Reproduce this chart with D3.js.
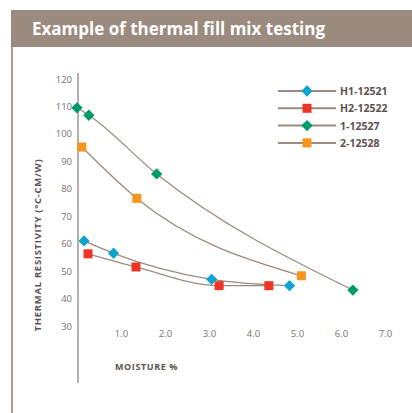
<!DOCTYPE html>
<html>
<head>
<meta charset="utf-8">
<script src="https://cdn.jsdelivr.net/npm/d3@7"></script>
<style>
  body { margin: 0; background: #fff; }
  svg { display: block; font-family: "Open Sans", sans-serif; }
</style>
</head>
<body>
<div id="chart"></div>
<script>
// series data: [moisture %, resistivity]
const h1 = [[0.16, 61.0], [0.83, 56.5], [3.06, 47.0], [4.83, 44.7]];
const h2 = [[0.25, 56.3], [1.34, 51.5], [3.23, 44.7], [4.36, 44.7]];
const s1 = [[0.0, 109.5], [0.27, 106.8], [1.81, 85.4], [6.27, 43.1]];
const s2 = [[0.11, 95.2], [1.36, 76.5], [5.10, 48.3]];

const seriesNames = ['H1-12521', 'H2-12522', '1-12527', '2-12528'];
const seriesData = [h1, h2, s1, s2];
const seriesColors = ['#0fa3cf', '#ee3424', '#009b68', '#f7941d'];
const seriesShapes = ['diamond', 'square', 'diamond', 'square'];

const xTicks = [1, 2, 3, 4, 5, 6, 7];
const yTicks = [30, 40, 50, 60, 70, 80, 90, 100, 110, 120];

const width = 412, height = 413;
const brown = '#9b8b7e';

const svg = d3.select('#chart').append('svg')
    .attr('width', width)
    .attr('height', height);

// header band and left rule
svg.append('rect')
    .attr('x', 11).attr('y', 10)
    .attr('width', width - 11).attr('height', 37)
    .style('fill', brown);
svg.append('line')
    .attr('x1', 12).attr('x2', 12)
    .attr('y1', 47).attr('y2', height)
    .style('stroke', '#a99c90')
    .style('stroke-width', 2);
svg.append('text')
    .attr('x', 32).attr('y', 35)
    .text('Example of thermal fill mix testing')
    .style('fill', '#fff')
    .style('font-size', '17px')
    .style('font-weight', 'bold');

// scales
const x = d3.scaleLinear().domain([0, 7]).range([77, 385]);
const y = d3.scaleLinear().domain([30, 120]).range([326, 79]);

// y axis line
svg.append('line')
    .attr('x1', 78).attr('x2', 78)
    .attr('y1', 73).attr('y2', 383)
    .style('stroke', '#9f958d')
    .style('stroke-width', 1.5);

const yAxis = svg.append('g')
    .attr('transform', 'translate(72,0)')
    .call(d3.axisLeft(y).tickValues(yTicks).tickSize(0).tickPadding(0));
yAxis.select('.domain').remove();

const xAxis = svg.append('g')
    .attr('transform', 'translate(0,330)')
    .call(d3.axisBottom(x).tickValues(xTicks).tickFormat(d3.format('.1f')).tickSize(0).tickPadding(0));
xAxis.select('.domain').remove();

svg.selectAll('.tick text')
    .style('fill', '#7a706c')
    .style('font-size', '9.5px')
    .style('font-family', '"Open Sans", sans-serif');

// axis titles
svg.append('text')
    .attr('x', 115).attr('y', 370)
    .text('MOISTURE %')
    .style('fill', '#5d5250')
    .style('font-size', '9px')
    .style('letter-spacing', '0.6px')
    .style('font-weight', 'bold');
svg.append('text')
    .attr('transform', 'translate(41,245) rotate(-90)')
    .attr('text-anchor', 'middle')
    .text('THERMAL RESISTIVITY (°C-CM/W)')
    .style('fill', '#5d5250')
    .style('font-size', '9.5px')
    .style('letter-spacing', '0.7px')
    .style('font-weight', 'bold');

// curves
const line = d3.line()
    .x(d => x(d[0]))
    .y(d => y(d[1]))
    .curve(d3.curveMonotoneX);

svg.selectAll('path.curve')
    .data(seriesData)
    .join('path')
    .classed('curve', true)
    .attr('d', line)
    .style('fill', 'none')
    .style('stroke', brown)
    .style('stroke-width', 1.3);

const diamond = d3.symbol().type(d3.symbolSquare).size(64);
const square = d3.symbol().type(d3.symbolSquare).size(81);

function drawMarker(g, shape, color){
    g.append('path')
        .attr('d', shape === 'diamond' ? diamond() : square())
        .attr('transform', shape === 'diamond' ? 'rotate(45)' : null)
        .style('fill', color);
}

seriesData.forEach((data, i) => {
    data.forEach(d => {
        const g = svg.append('g')
            .attr('transform', `translate(${x(d[0])},${y(d[1])})`);
        drawMarker(g, seriesShapes[i], seriesColors[i]);
    });
});

// legend
const legend = svg.append('g').attr('transform', 'translate(278,91)');
seriesNames.forEach((name, i) => {
    const row = legend.append('g').attr('transform', `translate(0,${i * 17.3})`);
    row.append('line')
        .attr('x1', 0).attr('x2', 58)
        .style('stroke', brown)
        .style('stroke-width', 2);
    const m = row.append('g').attr('transform', 'translate(29,0)');
    drawMarker(m, seriesShapes[i], seriesColors[i]);
    row.append('text')
        .attr('x', 62).attr('y', 4)
        .text(name)
        .style('fill', '#5d5250')
        .style('font-size', '10.5px')
        .style('font-weight', 'bold');
});
</script>
</body>
</html>
